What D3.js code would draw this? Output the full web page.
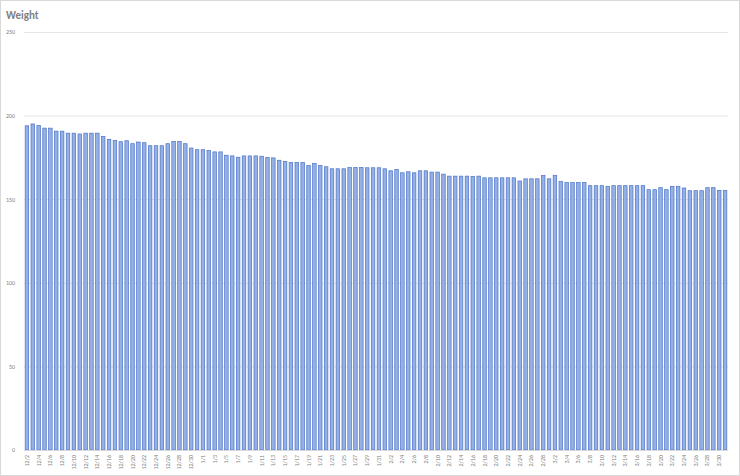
<!DOCTYPE html><html><head><meta charset="utf-8"><script src="https://cdn.jsdelivr.net/npm/d3@7"></script>
<style>body{margin:0;background:#fff}text{font-family:Calibri,Carlito,"Liberation Sans",sans-serif}</style></head><body>
<svg id="c" width="740" height="476"></svg>
<script>
const values=[193.9,195,194,192.5,192.5,190.7,190.7,189.5,189.5,189,189.5,189.5,189.5,187.5,185.8,185.2,184.4,185,183.2,184.2,183.8,182,182,182,183.2,184.6,184.6,183.2,180.6,179.6,179.6,179.2,178.3,178.3,176.3,175.9,175.1,175.9,175.9,175.9,175.7,174.9,174.7,173.3,172.5,171.9,171.9,171.9,170.2,171.3,170.2,169.4,168.2,168.2,168.2,169,169,169,
168.8,168.8,168.8,168.2,167,167.8,165.8,166.4,165.8,167,167,166.2,166.2,165,163.8,163.8,163.8,163.8,163.6,163.8,162.8,162.8,162.8,162.8,162.8,162.8,160.9,162.2,162.2,162.2,164.2,162.2,164.2,160.5,159.9,159.9,159.9,159.9,158.1,158.1,158.1,157.7,158.1,158.1,158.1,158.1,158.1,158.1,155.7,155.7,156.9,155.7,157.7,157.7,156.7,155.1,155.1,155.1,156.9,156.9,155.3,155.3];
const yTicks=[0,50,100,150,200,250];
const months=[[12,2,31],[1,1,31],[2,1,28],[3,1,31],[4,1,1]];
const dates=[];months.forEach(([m,s,e])=>{for(let d=s;d<=e;d++)dates.push(m+"/"+d);});
const data=dates.slice(0,values.length).map((d,i)=>({d,v:values[i]}));
const svg=d3.select("#c");
svg.append("rect").attr("x",0.5).attr("y",0.5).attr("width",739).attr("height",475).attr("fill","#fff").attr("stroke","#d9d9d9");
svg.append("text").attr("x",6).attr("y",19).attr("font-size",11).attr("font-weight","bold").attr("fill","#7f7f7f").text("Weight");
const x=d3.scaleBand().domain(data.map(d=>d.d)).range([24,728]).paddingInner(0.4).paddingOuter(0.2);
const y=d3.scaleLinear().domain([0,250]).range([450,32]);
const ga=svg.append("g").attr("transform","translate(24,0)").call(d3.axisLeft(y).tickValues(yTicks).tickSize(-704).tickFormat(d3.format("d")));
ga.select(".domain").remove();
ga.selectAll("line").attr("stroke","#e6e6e6");
ga.selectAll("text").attr("font-size",6).attr("fill","#7f7f7f").attr("dx",-6);
svg.selectAll("rect.b").data(data).join("rect").attr("class","b")
 .attr("x",d=>x(d.d)).attr("width",x.bandwidth()).attr("y",d=>y(d.v)).attr("height",d=>450-y(d.v))
 .attr("fill","#95b0e4").attr("stroke","#4a73c9").attr("stroke-width",0.7);
svg.append("line").attr("x1",24).attr("x2",728).attr("y1",450.5).attr("y2",450.5).attr("stroke","#d9d9d9");
const labs=data.filter((d,i)=>i%2==0);
svg.append("g").selectAll("text").data(labs).join("text")
 .attr("transform",d=>`translate(${x(d.d)+x.bandwidth()/2+2},455) rotate(-90)`)
 .attr("text-anchor","end").attr("font-size",6).attr("fill","#7f7f7f").text(d=>d.d);
</script></body></html>
